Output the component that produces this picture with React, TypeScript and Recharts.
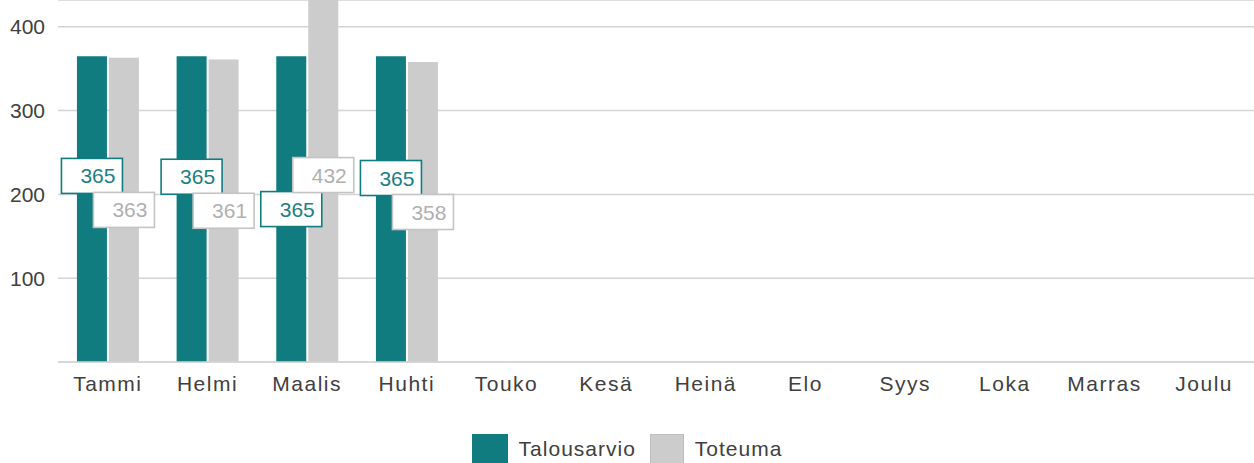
import React from 'react';
import { BarChart, Bar, XAxis, YAxis, CartesianGrid, Legend, LabelList } from 'recharts';

const months = ['Tammi', 'Helmi', 'Maalis', 'Huhti', 'Touko', 'Kesä', 'Heinä', 'Elo', 'Syys', 'Loka', 'Marras', 'Joulu'];
const talousarvio: (number | null)[] = [365, 365, 365, 365, null, null, null, null, null, null, null, null];
const toteuma: (number | null)[] = [363, 361, 432, 358, null, null, null, null, null, null, null, null];
const yTicks = [100, 200, 300, 400];

const TEAL = '#107c80';
const GREY = '#cccccc';
const FONT = '"Liberation Sans", Arial, sans-serif';

const data = months.map((m, i) => ({ month: m, Talousarvio: talousarvio[i], Toteuma: toteuma[i] }));

// label box sits at bar middle; the bigger value's box is pushed above the other one
const makeLabel = (other: (number | null)[], border: string, color: string) => (props: any) => {
  const vb = props.viewBox ?? props;
  const { x, y, width } = vb;
  const height = Math.abs(vb.height);
  const value = Number(props.value);
  const index = props.index;
  if (props.value == null || !height) return null;
  const bottom = y + height;
  const px = height / value;
  const ownMid = bottom - (value * px) / 2;
  const o = other[index];
  let cy = ownMid;
  if (o != null && value > o) cy = Math.min(ownMid, bottom - (o * px) / 2 - 34);
  const cx = x + width / 2;
  return (
    <g>
      <rect x={cx - 30.5} y={cy - 17.5} width={61} height={35} fill="#fff" stroke={border} strokeWidth={1.6} />
      <text x={cx + 23.5} y={cy} textAnchor="end" dominantBaseline="central" fontSize={21} fontFamily={FONT} fill={color}>
        {value}
      </text>
    </g>
  );
};

const MonthTick = ({ x, y, payload }: any) => (
  <text x={x} y={y + 27} textAnchor="middle" fontSize={21} fontFamily={FONT} fill="#404040" letterSpacing={1.5}>
    {payload.value}
  </text>
);

const LegendContent = () => (
  <div style={{ display: 'flex', justifyContent: 'center', alignItems: 'center', paddingTop: 32, fontFamily: FONT, fontSize: 21, color: '#404040', letterSpacing: 1 }}>
    <span style={{ width: 36, height: 30, background: TEAL, display: 'inline-block', marginRight: 11 }} />
    <span style={{ marginRight: 14 }}>Talousarvio</span>
    <span style={{ width: 34, height: 30, background: GREY, display: 'inline-block', marginRight: 11, boxSizing: 'border-box', border: '1px solid #bdbdbd' }} />
    <span>Toteuma</span>
  </div>
);

export default function App() {
  return (
    <div style={{ width: 1254, height: 463, overflow: 'hidden' }}>
      <style>{'body{margin:0}'}</style>
      <BarChart width={1254} height={463} data={data} margin={{ top: 0, right: 0, bottom: 0, left: 0 }} barCategoryGap="19%" barGap={2}>
        <CartesianGrid vertical={false} stroke="#d4d4d4" strokeWidth={1.5} />
        <XAxis dataKey="month" height={40} tickLine={false} axisLine={{ stroke: '#d4d4d4', strokeWidth: 1.5 }} tickSize={0} tick={<MonthTick />} interval={0} />
        <YAxis width={58} domain={[0, 432]} ticks={yTicks} tickLine={false} axisLine={false} tickSize={0} tickMargin={13} allowDataOverflow
          tick={{ fontSize: 21, fontFamily: FONT, fill: '#404040' }} />
        <Legend verticalAlign="bottom" height={61} content={<LegendContent />} />
        <Bar dataKey="Talousarvio" fill={TEAL} isAnimationActive={false}>
          <LabelList dataKey="Talousarvio" content={makeLabel(toteuma, TEAL, '#1b7f83')} />
        </Bar>
        <Bar dataKey="Toteuma" fill={GREY} isAnimationActive={false}>
          <LabelList dataKey="Toteuma" content={makeLabel(talousarvio, '#c4c4c4', '#b0b0b0')} />
        </Bar>
      </BarChart>
    </div>
  );
}
